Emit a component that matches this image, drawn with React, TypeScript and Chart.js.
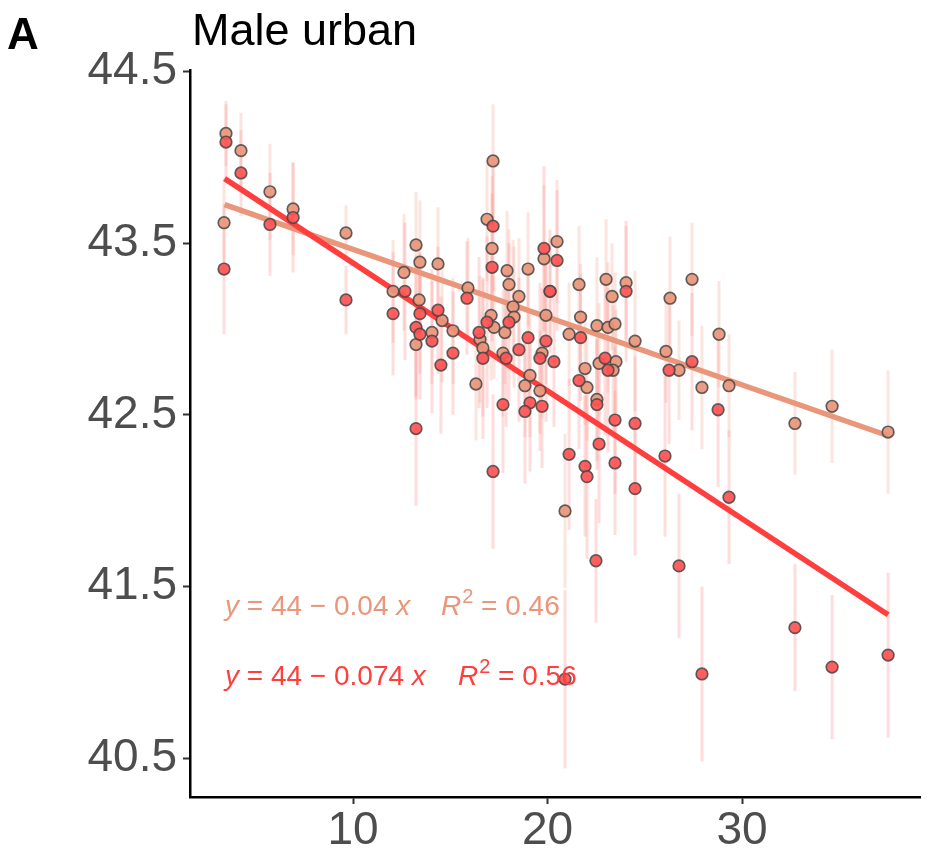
import React, { useEffect, useRef } from "react";
import { Chart, registerables } from "chart.js";
Chart.register(...registerables);

const panelLabel = "A";
const title = "Male urban";
const xTicks = [10, 20, 30];
const yTicks = [40.5, 41.5, 42.5, 43.5, 44.5];
const xRange = [1.62, 39.15];
const yRange = [40.273, 44.51];

const orangeX = [3.47, 3.37, 4.24, 5.73, 6.92, 9.64, 12.06, 12.62, 13.24, 13.44,
  13.40, 13.24, 14.37, 14.58, 14.06, 15.14, 15.91, 16.53, 16.68, 17.20,
  16.89, 17.15, 17.10, 17.25, 17.92, 18.02, 18.53, 18.23, 18.28, 17.81,
  19.00, 17.71, 19.82, 20.49, 20.13, 19.92, 19.72, 21.11, 21.62, 21.70,
  19.10, 18.84, 19.61, 16.32, 22.54, 23.01, 23.32, 23.11, 23.47, 24.04,
  24.50, 22.65, 23.52, 23.37, 21.93, 22.03, 22.54, 20.90, 26.30, 26.09,
  26.76, 27.43, 27.94, 28.82, 29.33, 32.72, 34.63, 37.51];
const orangeY = [44.14, 43.62, 44.04, 43.80, 43.70, 43.56, 43.22, 43.33, 43.49, 43.39,
  43.17, 42.91, 43.38, 43.05, 42.98, 42.99, 43.24, 42.94, 42.89, 43.98,
  43.64, 43.47, 43.08, 43.01, 43.34, 43.26, 43.19, 43.13, 43.07, 42.98,
  43.35, 42.86, 43.41, 43.51, 43.22, 43.08, 42.86, 42.97, 43.26, 43.07,
  42.73, 42.67, 42.64, 42.68, 43.02, 43.29, 43.19, 43.01, 43.03, 43.27,
  42.93, 42.80, 42.81, 42.76, 42.77, 42.66, 42.59, 41.94, 43.18, 42.87,
  42.76, 43.29, 42.66, 42.97, 42.67, 42.45, 42.55, 42.40];
const orangeErr = [0.19, 0.26, 0.22, 0.28, 0.27, 0.16, 0.30, 0.34, 0.31, 0.36,
  0.28, 0.30, 0.33, 0.36, 0.30, 0.31, 0.29, 0.37, 0.40, 0.33,
  0.36, 0.42, 0.38, 0.30, 0.35, 0.32, 0.34, 0.39, 0.41, 0.30,
  0.33, 0.37, 0.43, 0.36, 0.31, 0.40, 0.38, 0.30, 0.34, 0.31,
  0.36, 0.30, 0.35, 0.33, 0.40, 0.35, 0.31, 0.38, 0.30, 0.33,
  0.41, 0.35, 0.30, 0.38, 0.33, 0.31, 0.36, 0.45, 0.36, 0.30,
  0.29, 0.33, 0.36, 0.31, 0.30, 0.30, 0.33, 0.36];

const redX = [3.47, 3.37, 4.24, 5.73, 6.92, 9.64, 12.06, 12.67, 13.44, 13.24,
  13.44, 13.24, 14.37, 14.06, 15.14, 14.52, 15.86, 16.48, 16.68, 17.20,
  17.15, 16.89, 18.02, 19.00, 18.53, 17.87, 17.20, 19.82, 20.49, 20.13,
  19.92, 19.61, 20.33, 19.10, 19.72, 18.84, 21.70, 24.04, 22.96, 23.11,
  21.62, 22.54, 23.47, 24.50, 22.65, 21.11, 21.93, 22.03, 23.47, 24.50,
  26.04, 26.25, 27.43, 28.77, 29.33, 22.49, 26.76, 27.94, 32.72, 34.63,
  37.51, 20.90, 17.71];
const redY = [44.09, 43.35, 43.91, 43.61, 43.65, 43.17, 43.09, 43.22, 43.09, 43.01,
  42.97, 42.42, 43.11, 42.93, 42.86, 42.79, 43.18, 42.98, 42.83, 43.60,
  43.36, 43.04, 43.04, 42.95, 42.88, 42.83, 42.17, 43.47, 43.40, 43.22,
  42.93, 42.83, 42.81, 42.57, 42.55, 42.52, 42.95, 43.22, 42.83, 42.76,
  42.70, 42.56, 42.47, 42.45, 42.33, 42.27, 42.20, 42.14, 42.22, 42.07,
  42.26, 42.76, 42.81, 42.53, 42.02, 41.65, 41.62, 40.99, 41.26, 41.03,
  41.10, 40.96, 42.56];
const redErr = [0.22, 0.38, 0.25, 0.30, 0.32, 0.20, 0.36, 0.40, 0.35, 0.42,
  0.38, 0.45, 0.37, 0.42, 0.36, 0.40, 0.33, 0.44, 0.47, 0.38,
  0.43, 0.50, 0.46, 0.38, 0.42, 0.40, 0.45, 0.48, 0.41, 0.36,
  0.47, 0.44, 0.38, 0.40, 0.36, 0.42, 0.37, 0.41, 0.45, 0.48,
  0.40, 0.38, 0.43, 0.39, 0.46, 0.44, 0.41, 0.48, 0.42, 0.39,
  0.47, 0.43, 0.40, 0.45, 0.39, 0.36, 0.42, 0.51, 0.37, 0.42,
  0.48, 0.52, 0.40];

// fitted lines: [intercept, slope], drawn over fitSpan
const fitSpan = [3.4, 37.51];
const orangeFit = [43.86, -0.0395];
const redFit = [44.13, -0.0745];
const eqText = ["44 \u2212 0.04", "44 \u2212 0.074"];
const r2Text = ["0.46", "0.56"];

const ORANGE = "#E9967A";
const RED = "#FF3E3E";
const FONT = '"Liberation Sans", Arial, sans-serif';

export default function App() {
  const ref = useRef<HTMLCanvasElement | null>(null);
  useEffect(() => {
    const canvas = ref.current!;
    const mk = (xs: number[], ys: number[]) => xs.map((x, i) => ({ x, y: ys[i] }));
    const line = (f: number[]) => fitSpan.map((x) => ({ x, y: f[0] + f[1] * x }));

    const errPlugin = {
      id: "errbars",
      beforeDatasetsDraw(chart: any) {
        const { ctx, scales } = chart;
        const xs = scales.x, ys = scales.y;
        ctx.save();
        ctx.lineWidth = 3;
        const draw = (X: number[], Y: number[], E: number[], col: string) => {
          ctx.strokeStyle = col;
          X.forEach((x, i) => {
            const px = xs.getPixelForValue(x);
            ctx.beginPath();
            ctx.moveTo(px, ys.getPixelForValue(Y[i] + E[i]));
            ctx.lineTo(px, ys.getPixelForValue(Y[i] - E[i]));
            ctx.stroke();
          });
        };
        draw(orangeX, orangeY, orangeErr, "rgba(240,170,150,0.3)");
        draw(redX, redY, redErr, "rgba(255,150,150,0.32)");
        ctx.restore();
      },
    };

    const textPlugin = {
      id: "texts",
      afterDraw(chart: any) {
        const ctx = chart.ctx;
        ctx.save();
        ctx.textBaseline = "alphabetic";
        ctx.textAlign = "left";
        ctx.fillStyle = "#000";
        ctx.font = `bold 44px ${FONT}`;
        ctx.fillText(panelLabel, 7, 49);
        ctx.font = `45px ${FONT}`;
        ctx.fillText(title, 192, 45);

        const eq = (i: number, base: number, col: string, rx: number) => {
          ctx.fillStyle = col;
          let x = 225;
          ctx.font = `italic 28px ${FONT}`;
          ctx.fillText("y", x, base);
          x += ctx.measureText("y").width;
          ctx.font = `28px ${FONT}`;
          const mid = " = " + eqText[i] + " ";
          ctx.fillText(mid, x, base);
          x += ctx.measureText(mid).width;
          ctx.font = `italic 28px ${FONT}`;
          ctx.fillText("x", x, base);
          x = rx;
          ctx.fillText("R", x, base);
          x += ctx.measureText("R").width + 1;
          ctx.font = `20px ${FONT}`;
          ctx.fillText("2", x, base - 12);
          x += ctx.measureText("2").width;
          ctx.font = `28px ${FONT}`;
          ctx.fillText(" = " + r2Text[i], x, base);
        };
        eq(0, 615, ORANGE, 441);
        eq(1, 685, RED, 458);
        ctx.restore();
      },
    };

    const chart = new Chart(canvas, {
      type: "scatter",
      data: {
        datasets: [
          {
            type: "line",
            data: line(orangeFit),
            borderColor: ORANGE,
            borderWidth: 5.5,
            pointRadius: 0,
            order: 4,
          } as any,
          {
            type: "line",
            data: line(redFit),
            borderColor: RED,
            borderWidth: 5.5,
            pointRadius: 0,
            order: 3,
          } as any,
          {
            data: mk(orangeX, orangeY),
            backgroundColor: "rgba(233,150,122,0.92)",
            borderColor: "rgba(70,70,70,0.85)",
            borderWidth: 1.7,
            pointRadius: 5.8,
            order: 2,
          },
          {
            data: mk(redX, redY),
            backgroundColor: "rgba(255,82,82,0.92)",
            borderColor: "rgba(70,70,70,0.85)",
            borderWidth: 1.7,
            pointRadius: 5.8,
            order: 1,
          },
        ],
      },
      options: {
        animation: false,
        responsive: false,
        devicePixelRatio: 1,
        layout: { padding: { top: 70, right: 10, left: 0, bottom: 0 } },
        plugins: { legend: { display: false }, tooltip: { enabled: false } },
        scales: {
          x: {
            type: "linear",
            min: xRange[0],
            max: xRange[1],
            afterBuildTicks: (s: any) => { s.ticks = xTicks.map((v) => ({ value: v })); },
            afterFit: (s: any) => { s.height = 70; },
            ticks: { color: "#4D4D4D", font: { family: FONT, size: 46 }, padding: 0, maxRotation: 0 },
            grid: { drawOnChartArea: false, drawTicks: true, tickLength: 7, tickColor: "#333", tickWidth: 2 },
            border: { color: "#000", width: 2.5 },
          },
          y: {
            type: "linear",
            min: yRange[0],
            max: yRange[1],
            afterBuildTicks: (s: any) => { s.ticks = yTicks.map((v) => ({ value: v })); },
            afterFit: (s: any) => { s.width = 190; },
            ticks: { color: "#4D4D4D", font: { family: FONT, size: 46 }, padding: 6, callback: (v: any) => Number(v).toFixed(1) },
            grid: { drawOnChartArea: false, drawTicks: true, tickLength: 7, tickColor: "#333", tickWidth: 2 },
            border: { color: "#000", width: 2.5 },
          },
        },
      },
      plugins: [errPlugin, textPlugin],
    });
    return () => chart.destroy();
  }, []);
  return (
    <div style={{ position: "fixed", left: 0, top: 0, width: 930, height: 867, background: "#fff" }}>
      <canvas ref={ref} width={930} height={867} style={{ width: 930, height: 867 }} />
    </div>
  );
}
